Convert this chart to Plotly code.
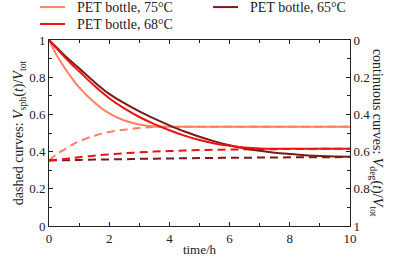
import plotly.graph_objects as go

# time grid (h)
time_h = [0, 0.25, 0.5, 0.75, 1, 1.5, 2, 2.5, 3, 3.5, 4, 4.5, 5, 5.5, 6, 6.5, 7, 7.5, 8, 8.5, 9, 9.5, 10]

# continuous curves: V_deg(t)/V_tot, drawn on the left scale
cont_75 = [1.0, 0.92, 0.855, 0.797, 0.745, 0.665, 0.605, 0.567, 0.546, 0.535, 0.533, 0.533, 0.533, 0.533, 0.533, 0.533, 0.533, 0.533, 0.533, 0.533, 0.533, 0.533, 0.533]
cont_68 = [1.0, 0.955, 0.912, 0.87, 0.832, 0.755, 0.687, 0.632, 0.586, 0.548, 0.515, 0.486, 0.462, 0.444, 0.431, 0.422, 0.417, 0.415, 0.415, 0.415, 0.415, 0.415, 0.415]
cont_65 = [1.0, 0.96, 0.92, 0.883, 0.848, 0.775, 0.71, 0.66, 0.616, 0.577, 0.541, 0.508, 0.48, 0.455, 0.434, 0.417, 0.404, 0.394, 0.387, 0.381, 0.377, 0.374, 0.372]

# dashed curves: V_sph(t)/V_tot
dash_75 = [0.352, 0.385, 0.41, 0.435, 0.455, 0.485, 0.505, 0.518, 0.527, 0.532, 0.533, 0.533, 0.533, 0.533, 0.533, 0.533, 0.533, 0.533, 0.533, 0.533, 0.533, 0.533, 0.533]
dash_68 = [0.352, 0.356, 0.36, 0.365, 0.37, 0.378, 0.385, 0.391, 0.396, 0.4, 0.403, 0.406, 0.408, 0.41, 0.411, 0.412, 0.413, 0.413, 0.414, 0.414, 0.415, 0.415, 0.415]
dash_65 = [0.352, 0.353, 0.354, 0.354, 0.355, 0.357, 0.358, 0.359, 0.361, 0.362, 0.363, 0.364, 0.365, 0.366, 0.367, 0.367, 0.368, 0.368, 0.369, 0.369, 0.37, 0.37, 0.371]

labels = ["PET bottle, 75°C", "PET bottle, 65°C", "PET bottle, 68°C"]
colors = ["#FF8060", "#7A1A1A", "#F01010"]
conts = [cont_75, cont_65, cont_68]
dashes = [dash_75, dash_65, dash_68]

font_family = "Liberation Serif, DejaVu Serif, serif"

fig = go.Figure()
for lab, col, d in zip(labels, colors, dashes):
    fig.add_trace(go.Scatter(x=time_h, y=d, mode="lines", line=dict(color=col, width=2, dash="8px,5px", shape="spline"),
                             showlegend=False, hoverinfo="skip", name=lab + " (dashed)"))
for lab, col, c in zip(labels, colors, conts):
    fig.add_trace(go.Scatter(x=time_h, y=c, mode="lines", name=lab, showlegend=False,
                             line=dict(color=col, width=2, shape="spline")))

# dummy trace to activate right axis
fig.add_trace(go.Scatter(x=[None], y=[None], yaxis="y2", showlegend=False))

y_ticks = [0, 0.2, 0.4, 0.6, 0.8, 1]
y_ticktext = ["0", "0.2", "0.4", "0.6", "0.8", "1"]
x_ticks = [0, 2, 4, 6, 8, 10]

axis_common = dict(showline=True, linecolor="#222", linewidth=1, ticks="inside", ticklen=4, tickcolor="#222",
                   showgrid=False, zeroline=False, automargin=False,
                   tickfont=dict(family=font_family, size=13, color="#222"))

# manual two-column legend (paper coords relative to plot area)
legend_pos = [(-0.03, 1.177), (0.545, 1.177), (-0.03, 1.086)]
shapes = []
annotations = []
for (lx, ly), lab, col in zip(legend_pos, labels, colors):
    shapes.append(dict(type="line", xref="paper", yref="paper", x0=lx, x1=lx + 0.083, y0=ly, y1=ly,
                       line=dict(color=col, width=2)))
    annotations.append(dict(text=lab, xref="paper", yref="paper", x=lx + 0.116, y=ly, xanchor="left",
                            yanchor="middle", showarrow=False, font=dict(size=14, family=font_family, color="#222")))

annotations.append(dict(text="continuous curves: <i>V</i><sub>deg</sub>(<i>t</i>)/<i>V</i><sub>tot</sub>", textangle=90,
                        xref="paper", yref="paper", x=1.09, y=0.5, xanchor="center", yanchor="middle",
                        showarrow=False, font=dict(size=14, family=font_family, color="#222")))

fig.update_layout(
    width=393, height=257,
    margin=dict(l=49, r=43, t=40, b=31),
    paper_bgcolor="white", plot_bgcolor="white",
    font=dict(family=font_family, size=13, color="#222"),
    showlegend=False,
    xaxis=dict(range=[0, 10], tickvals=x_ticks, ticktext=[str(v) for v in x_ticks], mirror="ticks",
               minor=dict(dtick=1, ticks="inside", ticklen=3, tickcolor="#222"),
               title=dict(text="time/h", standoff=0, font=dict(size=13)), **axis_common),
    yaxis=dict(range=[0, 1], tickvals=y_ticks, ticktext=y_ticktext,
               minor=dict(dtick=0.1, ticks="inside", ticklen=3, tickcolor="#222"),
               title=dict(text="dashed curves: <i>V</i><sub>sph</sub>(<i>t</i>)/<i>V</i><sub>tot</sub>", standoff=2, font=dict(size=14)),
               **axis_common),
    yaxis2=dict(range=[1, 0], overlaying="y", side="right", tickvals=y_ticks, ticktext=y_ticktext,
                minor=dict(dtick=0.1, ticks="inside", ticklen=3, tickcolor="#222"), **axis_common),
    shapes=shapes,
    annotations=annotations,
)

fig.write_html("out.html", config={"displayModeBar": False},
               post_script="document.body.style.margin='0';document.body.style.padding='0';")
